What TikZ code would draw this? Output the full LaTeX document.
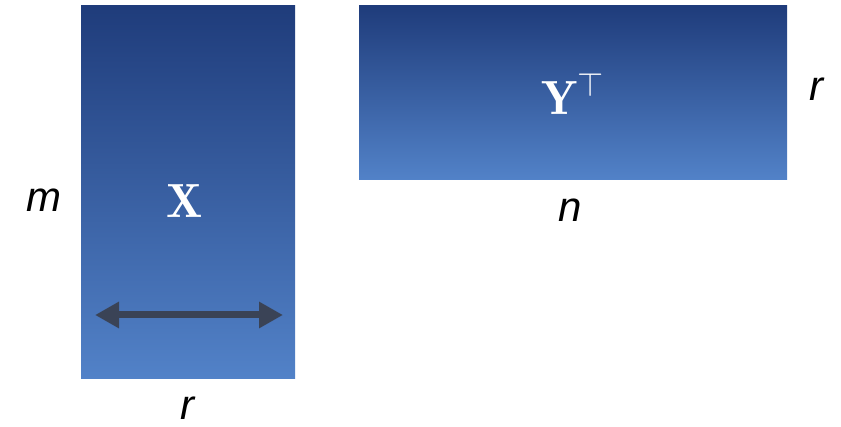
\documentclass[tikz,border=0pt]{standalone}
\usepackage{fix-cm}
\usepackage{fontspec}
\newfontfamily\labfont{Liberation Sans}
\usetikzlibrary{arrows.meta}
\definecolor{topblue}{HTML}{1F3C7B}
\definecolor{botblue}{HTML}{5282C8}
\definecolor{arrowgray}{HTML}{3A4356}
\tikzset{
  matbox/.style={rectangle, inner sep=0pt, top color=topblue, bottom color=botblue, draw=none},
  dimlabel/.style={font=\labfont\itshape\fontsize{42}{46}\selectfont, text=black, inner sep=0pt},
  matlabel/.style={font=\fontsize{48}{52}\selectfont, text=white, inner sep=0pt},
  dimarrow/.style={draw=arrowgray, line width=7pt, {Triangle[length=24pt,width=25pt]}-{Triangle[length=24pt,width=25pt]}}
}
\begin{document}
\begin{tikzpicture}[x=1pt,y=-1pt]
\useasboundingbox (0,0) rectangle (841,427);
\node[matbox, minimum width=214pt, minimum height=373pt] (X) at (188,192.5) {};
\node[matbox, minimum width=428pt, minimum height=174pt] (Y) at (573,93) {};
\node[matlabel] (xl) at (185,201) {$\mathbf{X}$};
\node[matlabel] (yl) at (573,94) {$\mathbf{Y}^{\top}$};
\node[dimlabel] (m) at (44,200) {m};
\node[dimlabel] (r1) at (187,408) {r};
\node[dimlabel] (n) at (570,210) {n};
\node[dimlabel] (r2) at (816,89) {r};
\coordinate (aL) at (95,315);
\coordinate (aR) at (283,315);
\draw[dimarrow] (aL) -- (aR);
\end{tikzpicture}
\end{document}
